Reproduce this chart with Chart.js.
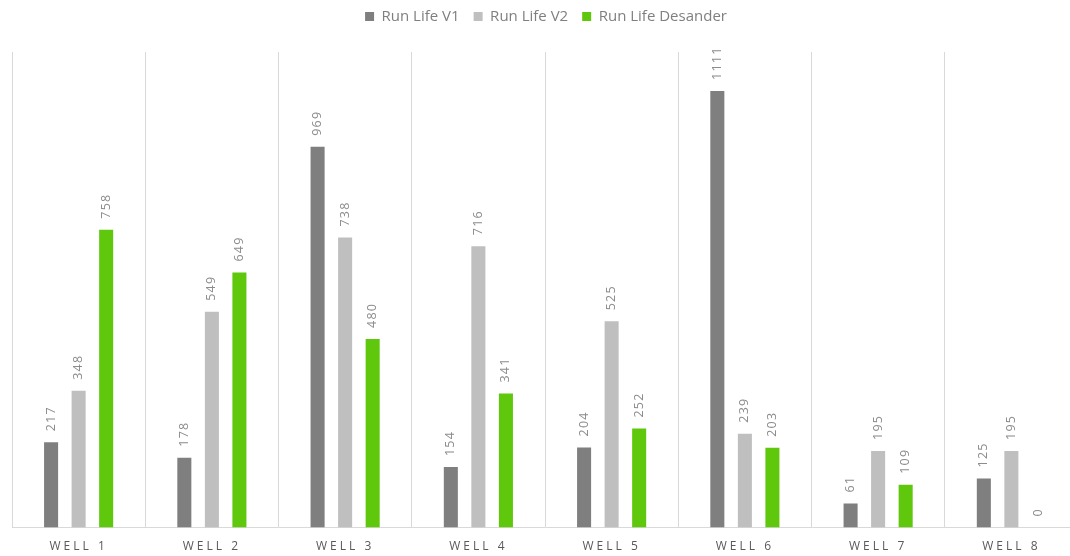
<!DOCTYPE html>
<html>
<head>
<meta charset="utf-8">
<script src="https://cdn.jsdelivr.net/npm/chart.js@4/dist/chart.umd.min.js"></script>
<style>
  html, body { margin: 0; padding: 0; background: #fff; overflow: hidden; }
  #wrap { width: 1070px; height: 556px; overflow: hidden; }
</style>
</head>
<body>
<div id="wrap"><canvas id="run-life-chart" width="1100" height="566"></canvas></div>
<script>
// Categories and run life values per well
const wells = ['WELL 1', 'WELL 2', 'WELL 3', 'WELL 4', 'WELL 5', 'WELL 6', 'WELL 7', 'WELL 8'];
const runLifeV1 = [217, 178, 969, 154, 204, 1111, 61, 125];
const runLifeV2 = [348, 549, 738, 716, 525, 239, 195, 195];
const runLifeDesander = [758, 649, 480, 341, 252, 203, 109, 0];

const FONT = "'Open Sans', 'Liberation Sans', sans-serif";

// Push the plot area down below the legend, and nudge the legend up
const legendGap = {
  id: 'legendGap',
  beforeInit(chart) {
    const fit = chart.legend.fit;
    chart.legend.fit = function () {
      fit.bind(chart.legend)();
      this.height += 13;
    };
  },
  afterLayout(chart) {
    chart.legend.left += 1;
    chart.legend.right += 1;
    chart.legend.top -= 5;
    chart.legend.bottom -= 5;
  }
};

// Spaced-out lettering on the category labels
const spacedTicks = {
  id: 'spacedTicks',
  afterLayout(chart) {
    const scale = chart.scales.x;
    if (scale._spaced) return;
    const base = Object.getPrototypeOf(scale).drawLabels;
    scale.drawLabels = function (area) {
      const ctx = this.ctx;
      ctx.save();
      ctx.letterSpacing = '3px';
      base.call(this, area);
      ctx.restore();
    };
    scale._spaced = true;
  }
};

// Rotated value labels above every bar
const barValues = {
  id: 'barValues',
  afterDatasetsDraw(chart) {
    const ctx = chart.ctx;
    ctx.save();
    ctx.font = '12.5px ' + FONT;
    ctx.fillStyle = '#8c8c8c';
    ctx.letterSpacing = '1.2px';
    ctx.textAlign = 'left';
    ctx.textBaseline = 'middle';
    chart.data.datasets.forEach((ds, i) => {
      chart.getDatasetMeta(i).data.forEach((bar, j) => {
        ctx.save();
        ctx.translate(bar.x, bar.y - 11);
        ctx.rotate(-Math.PI / 2);
        ctx.fillText(String(ds.data[j]), 0, 0);
        ctx.restore();
      });
    });
    ctx.restore();
  }
};

const ctx = document.getElementById('run-life-chart').getContext('2d');

const myChart = new Chart(ctx, {
  type: 'bar',
  data: {
    labels: wells,
    datasets: [
      { label: 'Run Life V1', data: runLifeV1, backgroundColor: '#7f7f7f' },
      { label: 'Run Life V2', data: runLifeV2, backgroundColor: '#bfbfbf' },
      { label: 'Run Life Desander', data: runLifeDesander, backgroundColor: '#5fc70c' }
    ]
  },
  options: {
    responsive: false,
    animation: false,
    categoryPercentage: 0.62,
    barPercentage: 0.51,
    layout: { padding: { left: 12, right: 22, top: 0, bottom: 0 } },
    scales: {
      x: {
        grid: { offset: true, color: '#d9d9d9', drawTicks: false, lineWidth: 1 },
        border: { color: '#d9d9d9' },
        ticks: {
          color: '#595959',
          padding: 12,
          font: { size: 12, family: FONT }
        }
      },
      y: {
        display: false,
        min: 0,
        max: 1210
      }
    },
    plugins: {
      tooltip: { enabled: false },
      legend: {
        display: true,
        position: 'top',
        labels: {
          boxWidth: 9,
          boxHeight: 9,
          padding: 14,
          color: '#7f7f7f',
          font: { size: 15, family: FONT }
        }
      }
    }
  },
  plugins: [legendGap, spacedTicks, barValues]
});
</script>
</body>
</html>
